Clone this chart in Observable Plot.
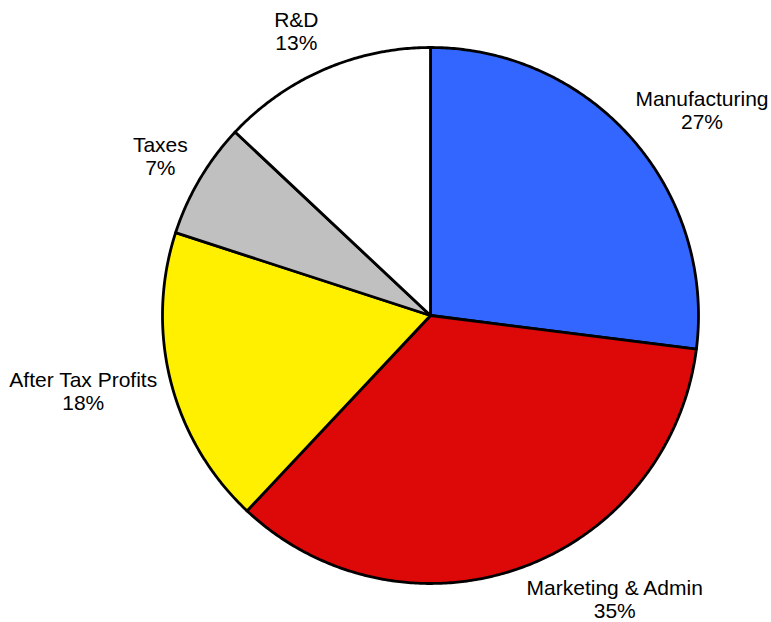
<!DOCTYPE html>
<html><head><meta charset="utf-8">
<script src="https://cdn.jsdelivr.net/npm/d3@7"></script>
<script src="https://cdn.jsdelivr.net/npm/@observablehq/plot@0.6"></script>
<style>body{margin:0;background:#fff}</style>
</head><body><div id="chart"></div>
<script>
const categories = ["Manufacturing", "Marketing & Admin", "After Tax Profits", "Taxes", "R&D"];
const values = [27, 35, 18, 7, 13];
const colors = ["#3366FF", "#DD0808", "#FFF000", "#C0C0C0", "#FFFFFF"];

const W = 771, H = 622;
const cx = 430, cy = 315, R = 268;
const fontSize = 21, lineH = 1.1;

const pie = d3.pie().sort(null).value(d => d.value)(categories.map((c, i) => ({cat: c, value: values[i], color: colors[i]})));

// slice polygons (screen-down y, origin at pie centre)
const pts = [];
pie.forEach(s => {
  const c = s.data.cat;
  pts.push({cat: c, x: 0, y: 0});
  const n = Math.max(2, Math.ceil((s.endAngle - s.startAngle) / (Math.PI / 360)));
  for (let k = 0; k <= n; k++) {
    const a = s.startAngle + (s.endAngle - s.startAngle) * k / n;
    pts.push({cat: c, x: R * Math.sin(a), y: -R * Math.cos(a)});
  }
  pts.push({cat: c, x: 0, y: 0});
});

const ctx = document.createElement("canvas").getContext("2d");
ctx.font = `${fontSize}px 'Liberation Sans', Arial, sans-serif`;
const labels = pie.map(s => {
  const a = (s.startAngle + s.endAngle) / 2;
  const txt = `${s.data.cat}\n${s.data.value}%`;
  const w = Math.max(...txt.split("\n").map(t => ctx.measureText(t).width));
  const h = 2 * fontSize * lineH;
  const dx = Math.sin(a), dy = -Math.cos(a);
  const ar = R + 14;
  let x = ar * dx + Math.sign(dx) * w / 2;
  let y = ar * dy + dy * h / 2 - (dy < 0 ? 4 : 0);
  x = Math.max(-cx + w / 2 + 3, Math.min(W - cx - w / 2 - 3, x));
  y = Math.max(-cy + h / 2, Math.min(H - cy - h / 2, y));
  return {cat: s.data.cat, txt, x, y};
});

const chart = Plot.plot({
  width: W, height: H,
  margin: 0,
  x: {domain: [-cx, W - cx], range: [0, W], axis: null},
  y: {domain: [-cy, H - cy], range: [0, H], axis: null},
  color: {domain: categories, range: colors},
  style: {background: "#fff"},
  marks: [
    Plot.text(labels, {x: "x", y: "y", text: "txt", fontSize, lineHeight: lineH,
      fill: "#000", textAnchor: "middle", lineAnchor: "middle",
      fontFamily: "'Liberation Sans', Arial, sans-serif"}),
    Plot.line(pts, {x: "x", y: "y", z: "cat", fill: "cat", stroke: "#000",
      strokeWidth: 2.8, strokeLinejoin: "round", curve: "linear"})
  ]
});
document.getElementById("chart").appendChild(chart);
</script>
</body></html>
